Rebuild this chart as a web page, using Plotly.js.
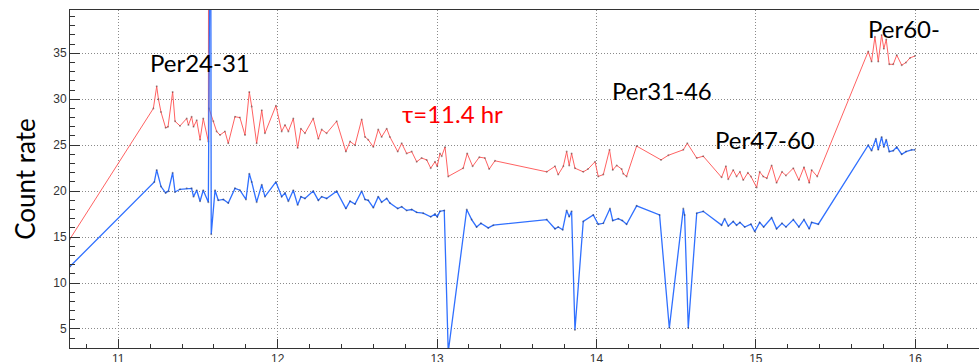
<!DOCTYPE html>
<html>
<head>
<meta charset="utf-8">
<script src="https://cdn.plot.ly/plotly-3.0.1.min.js"></script>
<style>
  html, body { margin: 0; padding: 0; background: #fff; overflow: hidden; }
  #chart { width: 979px; height: 362px; }
</style>
</head>
<body>
<div id="chart"></div>
<script>
// Count rate vs time, upper (red) and lower (blue) channels: [time, rate]
const redPoints = [
  [10.697, 14.8], [11.220, 29.0], [11.241, 31.4], [11.252, 30.0], [11.268, 28.6],
  [11.297, 26.9], [11.312, 27.0], [11.341, 30.8], [11.356, 27.6], [11.387, 27.1],
  [11.429, 27.9], [11.440, 27.2], [11.460, 28.1], [11.472, 27.0], [11.492, 27.7],
  [11.513, 25.6], [11.533, 27.9], [11.565, 25.4], [11.567, 60.0], [11.569, 29.0],
  [11.596, 27.6], [11.617, 26.5], [11.638, 26.1], [11.669, 26.5], [11.690, 25.2],
  [11.732, 28.1], [11.763, 28.0], [11.795, 26.1], [11.822, 30.8], [11.837, 29.2],
  [11.868, 25.2], [11.900, 28.8], [11.920, 26.3], [11.989, 29.3], [12.025, 26.5],
  [12.046, 27.2], [12.067, 26.5], [12.098, 27.9], [12.125, 24.7], [12.146, 26.8],
  [12.171, 26.3], [12.223, 27.9], [12.255, 25.7], [12.276, 26.7], [12.307, 26.3],
  [12.370, 27.6], [12.428, 24.3], [12.454, 25.4], [12.485, 25.0], [12.527, 27.8],
  [12.548, 25.9], [12.568, 25.6], [12.600, 24.8], [12.631, 26.7], [12.652, 25.9],
  [12.684, 26.8], [12.704, 25.9], [12.753, 24.3], [12.778, 25.2], [12.809, 24.1],
  [12.841, 24.3], [12.872, 23.2], [12.903, 23.6], [12.935, 23.4], [12.960, 22.5],
  [12.987, 23.2], [13.001, 22.7], [13.018, 24.1], [13.029, 23.8], [13.050, 24.8],
  [13.070, 21.6], [13.164, 22.5], [13.189, 24.1], [13.223, 22.7], [13.265, 23.7],
  [13.300, 23.6], [13.327, 22.4], [13.363, 23.3], [13.688, 22.1], [13.740, 22.7],
  [13.760, 21.8], [13.792, 22.7], [13.813, 24.3], [13.829, 22.8], [13.844, 24.1],
  [13.865, 22.5], [13.917, 22.1], [13.947, 22.4], [13.991, 23.2], [14.011, 21.6],
  [14.043, 21.8], [14.082, 24.5], [14.102, 22.3], [14.127, 22.8], [14.158, 22.4],
  [14.168, 21.9], [14.189, 21.6], [14.252, 24.9], [14.405, 23.4], [14.451, 23.9],
  [14.545, 24.5], [14.570, 25.2], [14.629, 23.6], [14.670, 23.8], [14.785, 21.5],
  [14.812, 22.7], [14.827, 21.3], [14.858, 22.3], [14.879, 21.6], [14.900, 22.1],
  [14.921, 21.2], [14.950, 22.0], [14.969, 21.6], [15.005, 20.4], [15.024, 22.1],
  [15.046, 21.6], [15.069, 21.4], [15.099, 22.8], [15.130, 20.9], [15.164, 22.1],
  [15.189, 21.7], [15.235, 22.5], [15.270, 21.2], [15.302, 22.6], [15.335, 20.9],
  [15.350, 22.3], [15.385, 21.6], [15.705, 35.2], [15.726, 34.1], [15.747, 36.8],
  [15.768, 34.1], [15.789, 37.0], [15.803, 35.5], [15.818, 36.5], [15.837, 33.8],
  [15.862, 33.8], [15.884, 34.8], [15.915, 33.7], [15.942, 34.0], [15.967, 34.5],
  [15.998, 34.7]
];

const bluePoints = [
  [10.697, 11.8], [11.226, 21.0], [11.241, 22.3], [11.268, 20.5], [11.297, 19.8],
  [11.314, 20.0], [11.341, 22.0], [11.356, 19.9], [11.387, 20.2], [11.429, 20.3],
  [11.460, 20.3], [11.472, 19.4], [11.492, 20.1], [11.513, 18.9], [11.533, 20.1],
  [11.565, 18.8], [11.579, 60.0], [11.583, 15.3], [11.607, 20.1], [11.627, 19.0],
  [11.659, 19.1], [11.690, 18.7], [11.732, 20.3], [11.763, 20.1], [11.801, 19.1],
  [11.822, 21.9], [11.837, 21.0], [11.868, 18.8], [11.900, 20.7], [11.920, 19.4],
  [11.989, 21.0], [12.025, 19.4], [12.046, 19.8], [12.067, 18.9], [12.098, 20.1],
  [12.125, 18.5], [12.146, 19.4], [12.171, 19.2], [12.223, 20.0], [12.255, 19.0],
  [12.276, 19.4], [12.307, 19.2], [12.370, 20.0], [12.428, 18.1], [12.454, 18.9],
  [12.485, 18.6], [12.527, 20.0], [12.548, 19.1], [12.568, 19.0], [12.600, 18.2],
  [12.631, 19.4], [12.652, 18.8], [12.684, 19.2], [12.704, 18.7], [12.753, 18.1],
  [12.778, 18.3], [12.809, 17.9], [12.841, 18.0], [12.872, 17.7], [12.913, 17.6],
  [12.960, 17.2], [12.987, 17.5], [13.001, 17.2], [13.018, 17.8], [13.045, 17.9],
  [13.070, 2.5], [13.186, 18.0], [13.217, 16.9], [13.248, 16.1], [13.275, 16.5],
  [13.321, 16.0], [13.353, 16.3], [13.688, 16.9], [13.740, 15.9], [13.760, 16.1],
  [13.788, 15.8], [13.813, 17.9], [13.829, 17.2], [13.844, 17.8], [13.865, 4.9],
  [13.917, 16.7], [13.980, 17.4], [14.011, 16.4], [14.043, 16.5], [14.085, 18.1],
  [14.102, 16.8], [14.137, 17.0], [14.162, 16.8], [14.189, 16.4], [14.252, 18.4],
  [14.396, 17.4], [14.457, 5.1], [14.545, 18.1], [14.553, 17.4], [14.576, 5.1],
  [14.629, 17.6], [14.670, 17.8], [14.785, 16.3], [14.804, 17.0], [14.827, 16.2],
  [14.858, 16.7], [14.879, 16.3], [14.900, 16.6], [14.930, 16.1], [14.969, 16.4],
  [14.993, 15.6], [15.024, 16.6], [15.049, 16.1], [15.099, 17.1], [15.130, 15.9],
  [15.164, 16.5], [15.189, 16.1], [15.235, 16.9], [15.270, 16.1], [15.302, 16.9],
  [15.335, 15.9], [15.350, 16.6], [15.392, 16.4], [15.705, 25.0], [15.726, 24.4],
  [15.753, 25.7], [15.768, 24.5], [15.789, 25.9], [15.803, 24.8], [15.818, 25.6],
  [15.837, 24.3], [15.862, 24.4], [15.884, 24.8], [15.915, 24.0], [15.942, 24.3],
  [15.977, 24.5], [15.998, 24.5]
];

// Period labels and the fitted lifetime: [text, time, rate]
const periodLabels = [
  ["Per24-31", 11.513, 34.05],
  ["Per31-46", 14.408, 31.0],
  ["Per47-60", 15.060, 25.57],
  ["Per60-",   15.929, 37.75]
];
const tauLabel = ["τ=11.4 hr", 13.094, 28.5];

const xTicks = [11, 12, 13, 14, 15, 16];
const yTicks = [5, 10, 15, 20, 25, 30, 35];

const labelFont = { family: "Lato, 'Open Sans', sans-serif", size: 24, color: "#000" };

function lineTrace(points, color, width) {
  return {
    type: "scatter",
    mode: "lines+markers",
    x: points.map(p => p[0]),
    y: points.map(p => p[1]),
    line: { color: color, width: width },
    marker: { size: 2, color: "rgba(40,30,30,0.4)" },
    cliponaxis: true,
    hoverinfo: "skip"
  };
}

const traces = [
  lineTrace(redPoints, "#ff6262", 1),
  lineTrace(bluePoints, "#3070ff", 1.3)
];

const annotations = periodLabels.map(l => ({
  text: l[0], x: l[1], y: l[2], xref: "x", yref: "y",
  showarrow: false, font: labelFont, xanchor: "center", yanchor: "middle"
}));
annotations.push({
  text: tauLabel[0], x: tauLabel[1], y: tauLabel[2], xref: "x", yref: "y",
  showarrow: false, font: Object.assign({}, labelFont, { color: "#ff0000" }),
  xanchor: "center", yanchor: "middle"
});

const tickFont = { family: "'Liberation Sans', Arial, sans-serif", size: 12, color: "#333" };
const gridDash = "1px,2px";

const layout = {
  width: 979, height: 362,
  margin: { l: 70, r: 0, t: 10, b: 14 },
  paper_bgcolor: "#fff", plot_bgcolor: "#fff",
  showlegend: false,
  xaxis: {
    range: [10.697, 16.40],
    tickvals: xTicks, ticktext: xTicks.map(String),
    ticks: "inside", ticklen: 9, tickcolor: "#333", tickwidth: 1,
    minor: { dtick: 0.2, tick0: 11, ticks: "inside", ticklen: 4, tickcolor: "#333", showgrid: false },
    showgrid: true, gridcolor: "#8a8a8a", griddash: gridDash, gridwidth: 1,
    showline: true, mirror: true, linecolor: "#333", linewidth: 1,
    zeroline: false, tickfont: tickFont
  },
  yaxis: {
    range: [2.93, 39.71],
    tickvals: yTicks, ticktext: yTicks.map(String),
    ticks: "inside", ticklen: 10, tickcolor: "#333", tickwidth: 1,
    minor: { dtick: 1, tick0: 0, ticks: "inside", ticklen: 5, tickcolor: "#333", showgrid: false },
    showgrid: true, gridcolor: "#8a8a8a", griddash: gridDash, gridwidth: 1,
    showline: true, mirror: false, linecolor: "#333", linewidth: 1,
    zeroline: false, tickfont: tickFont,
    title: { text: "Count rate", font: { family: "Lato, 'Open Sans', sans-serif", size: 26, color: "#000" }, standoff: 10 }
  },
  annotations: annotations
};

Plotly.newPlot("chart", traces, layout, { staticPlot: true, displayModeBar: false });
</script>
</body>
</html>
